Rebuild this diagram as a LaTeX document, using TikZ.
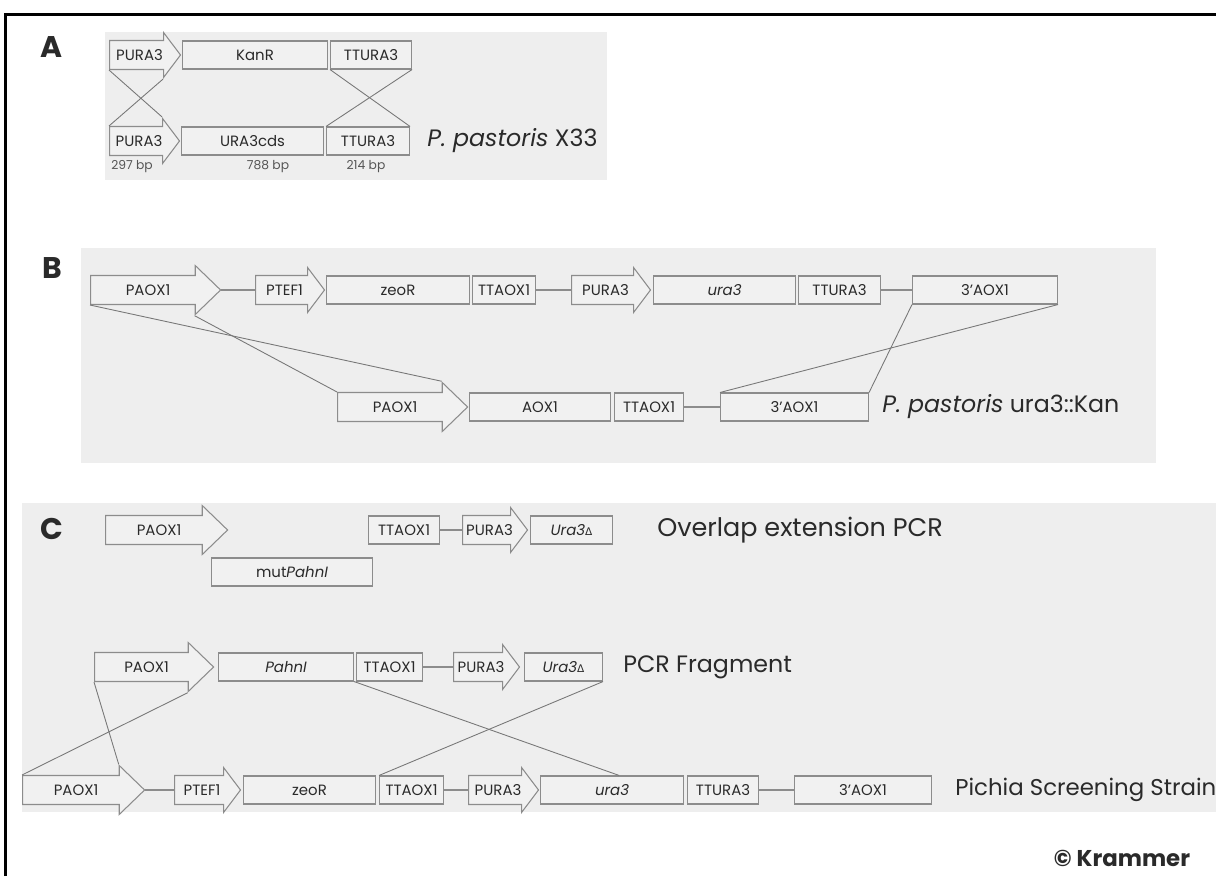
\documentclass[tikz,border=0pt]{standalone}
\usepackage{fontspec}
\setmainfont{Poppins}
\newfontfamily\dvfont{DejaVu Sans}
\usetikzlibrary{shapes.arrows, calc}
\definecolor{bg}{HTML}{EEEEEE}
\definecolor{boxfill}{HTML}{F1F1F1}
\definecolor{edge}{HTML}{8C8C8C}
\definecolor{ink}{HTML}{2A2A2A}
\newlength\pxu
\setlength\pxu{0.02cm}
\newcommand{\dl}{{\dvfont\fontsize{6}{7}\selectfont\char"0394}}
\tikzset{
  gene/.style={draw=edge, fill=boxfill, line width=0.6pt, minimum height=28\pxu, inner sep=0pt, anchor=west, font=\fontsize{8.5}{9}\selectfont, text=ink},
  prom/.style={gene, shape=single arrow, anchor=tail, inner xsep=0pt, inner ysep=4.95pt, text height=6pt, text depth=0pt, text width=#1\pxu, align=center, single arrow head extend=8\pxu, single arrow tip angle=106},
  bigprom/.style={prom=#1, single arrow head extend=10\pxu, single arrow tip angle=88},
  lnk/.style={draw=edge, line width=0.9pt},
  cross/.style={draw=edge!85!black, line width=0.5pt},
  tag/.style={font=\fontsize{13.5}{15}\selectfont, text=ink, anchor=west, inner sep=0pt},
  bp/.style={font=\fontsize{7}{8}\selectfont, text=ink!80, inner sep=0pt},
  lt/.style={font=\bfseries\fontsize{17}{17}\selectfont, text=ink, inner sep=0pt},
}
\begin{document}
\begin{tikzpicture}[x=0.02cm, y=-0.02cm]
\useasboundingbox (0,0) rectangle (1216,876);
\fill[white] (0,0) rectangle (1216,876);
\fill[bg] (105,32) rectangle (607,180);
\fill[bg] (81,248) rectangle (1156,463);
\fill[bg] (22,503) rectangle (1216,812);
\draw[line width=3\pxu, black] (5,876) -- (5,14) -- (1216,14);

\node[lt] (la) at (52,47) {A};
\node[prom=59] (puA1) at (109,55) {PURA3};
\node[gene, minimum width=145\pxu] (kan) at (182,55) {KanR};
\node[gene, minimum width=81\pxu] (ttA1) at (330,55) {TTURA3};
\node[prom=58] (puA2) at (109,141) {PURA3};
\node[gene, minimum width=142\pxu] (cds) at (181,141) {URA3cds};
\node[gene, minimum width=83\pxu] (ttA2) at (326,141) {TTURA3};
\node[bp] (bp1) at (132,167) {297 bp};
\node[bp] (bp2) at (268,167) {788 bp};
\node[bp] (bp3) at (366,167) {214 bp};
\node[tag] (x33) at (427,141) {\textit{P. pastoris} X33};
\draw[cross] (puA1.before tail) -- (puA2.before tip);
\draw[cross] (puA1.after tip) -- (puA2.after tail);
\draw[cross] (ttA1.south west) -- (ttA2.north east);
\draw[cross] (ttA1.south east) -- (ttA2.north west);

\node[lt] (lb) at (52,268) {B};
\node[bigprom=114] (paB1) at (90,290) {PAOX1};
\node[prom=57] (teB1) at (255,290) {PTEF1};
\node[gene, minimum width=143\pxu] (zeoB) at (326,290) {zeoR};
\node[gene, minimum width=63\pxu] (ttaB1) at (472,290) {TTAOX1};
\node[prom=67] (puB1) at (571,290) {PURA3};
\node[gene, minimum width=142\pxu] (uraB1) at (653,290) {\textit{ura3}};
\node[gene, minimum width=82\pxu] (ttuB1) at (798,290) {TTURA3};
\node[gene, minimum width=145\pxu] (aoB1) at (912,290) {3'AOX1};
\node[bigprom=114] (paB2) at (337,407) {PAOX1};
\node[gene, minimum width=141\pxu] (aoxB2) at (469,407) {AOX1};
\node[gene, minimum width=69\pxu] (ttaB2) at (614,407) {TTAOX1};
\node[gene, minimum width=148\pxu] (aoB2) at (720,407) {3'AOX1};
\node[tag] (kan3) at (882,407) {\textit{P. pastoris} ura3::Kan};
\draw[lnk] (paB1.tip) -- (teB1.tail);
\draw[lnk] (ttaB1.east) -- (puB1.tail);
\draw[lnk] (ttuB1.east) -- (aoB1.west);
\draw[lnk] (ttaB2.east) -- (aoB2.west);
\draw[cross] (paB1.before tail) -- (paB2.before tip);
\draw[cross] (paB1.after tip) -- (paB2.after tail);
\draw[cross] (aoB1.south west) -- (aoB2.north east);
\draw[cross] (aoB1.south east) -- (aoB2.north west);

\node[lt] (lc) at (52,529) {C};
\node[bigprom=106] (paC1) at (105,530) {PAOX1};
\node[gene, minimum width=161\pxu] (mut) at (211,572) {mut\textit{PahnI}};
\node[gene, minimum width=71\pxu] (ttaC1) at (368,530) {TTAOX1};
\node[prom=53] (puC1) at (462,530) {PURA3};
\node[gene, minimum width=82\pxu] (udC1) at (530,530) {\textit{Ura3}\dl};
\node[tag, font=\fontsize{14.5}{16}\selectfont] (olp) at (657,530) {Overlap extension PCR};
\draw[lnk] (ttaC1.east) -- (puC1.tail);

\node[bigprom=103] (paC2) at (94,667) {PAOX1};
\node[gene, minimum width=135\pxu] (pahC2) at (218,667) {\textit{PahnI}};
\node[gene, minimum width=66\pxu] (ttaC2) at (356,667) {TTAOX1};
\node[prom=54] (puC2) at (453,667) {PURA3};
\node[gene, minimum width=78\pxu] (udC2) at (524,667) {\textit{Ura3}\dl};
\node[tag] (frag) at (623,667) {PCR Fragment};
\draw[lnk] (ttaC2.east) -- (puC2.tail);

\node[bigprom=106] (paC3) at (22,790) {PAOX1};
\node[prom=54] (teC3) at (174,790) {PTEF1};
\node[gene, minimum width=132\pxu] (zeoC3) at (243,790) {zeoR};
\node[gene, minimum width=64\pxu] (ttaC3) at (379,790) {TTAOX1};
\node[prom=58] (puC3) at (468,790) {PURA3};
\node[gene, minimum width=143\pxu] (uraC3) at (540,790) {\textit{ura3}};
\node[gene, minimum width=71\pxu] (ttuC3) at (687,790) {TTURA3};
\node[gene, minimum width=137\pxu] (aoC3) at (794,790) {3'AOX1};
\node[tag, font=\fontsize{13}{15}\selectfont] (strain) at (955,790) {Pichia Screening Strain};
\draw[lnk] (paC3.tip) -- (teC3.tail);
\draw[lnk] (ttaC3.east) -- (puC3.tail);
\draw[lnk] (ttuC3.east) -- (aoC3.west);
\coordinate (hit) at ($(uraC3.north west)!0.55!(uraC3.north east)$);
\draw[cross] (paC2.before tail) -- (paC3.before tip);
\draw[cross] (paC2.after tip) -- (paC3.after tail);
\draw[cross] (pahC2.south east) -- (hit);
\draw[cross] (udC2.south east) -- (ttaC3.north west);

\node[font=\bfseries\fontsize{13}{15}\selectfont, text=ink] (cr) at (1122,858) {© Krammer};
\end{tikzpicture}
\end{document}
